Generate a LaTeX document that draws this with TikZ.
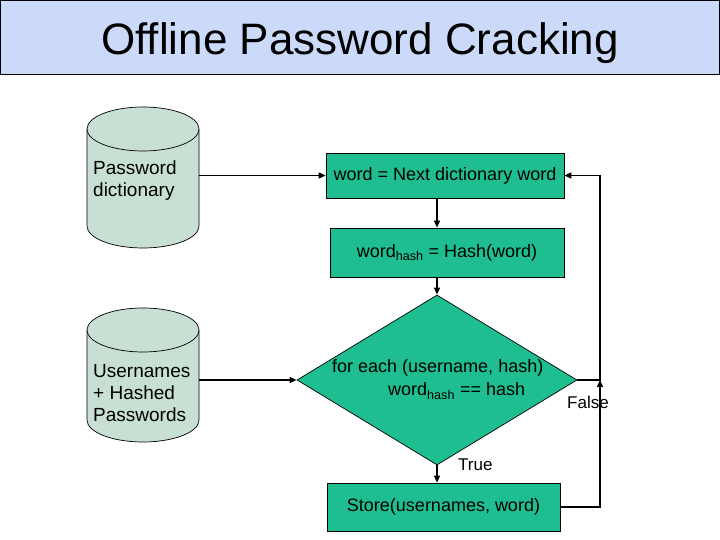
\documentclass[tikz,border=0pt]{standalone}
\usepackage{fontspec}
\setmainfont{Liberation Sans}
\usetikzlibrary{shapes.geometric,arrows.meta}

\definecolor{flowgreen}{RGB}{30,190,145}
\definecolor{dbgrey}{RGB}{200,224,212}
\definecolor{titleblue}{RGB}{204,218,250}

\begin{document}
\begin{tikzpicture}[x=1pt,y=1pt,>={Triangle[length=7pt,width=6pt]},
	flowbox/.style={draw,line width=0.7pt,fill=flowgreen,rectangle,inner sep=0pt,font=\fontsize{18}{22}\selectfont},
	dbtext/.style={anchor=west,align=left,inner sep=0pt,font=\fontsize{19}{22}\selectfont},
	link/.style={line width=1.5pt,->}]

	\useasboundingbox (0,0) rectangle (720,540);

	\node[draw,line width=1pt,fill=titleblue,minimum width=719pt,minimum height=74pt,inner sep=0pt] (title) at (360,502.5) {};
	\node[font=\fontsize{44}{50}\selectfont] at (360,497) {Offline Password Cracking};

	\begin{scope}[line width=0.7pt,fill=dbgrey]
		\filldraw[fill=dbgrey] (87,411) -- (87,314) arc[start angle=180,end angle=360,x radius=56,y radius=22] -- (199,411);
		\filldraw[fill=dbgrey] (143,411) ellipse [x radius=56,y radius=22];
		\filldraw[fill=dbgrey] (87,210) -- (87,120) arc[start angle=180,end angle=360,x radius=56,y radius=22] -- (199,210);
		\filldraw[fill=dbgrey] (143,210) ellipse [x radius=56,y radius=22];
	\end{scope}

	\node[dbtext] (dict)  at (93,359) {Password\\dictionary};
	\node[dbtext] (users) at (93,147) {Usernames\\+ Hashed\\Passwords};
	\coordinate (dictout)  at (199,364.5);
	\coordinate (usersout) at (199,160);

	\node[flowbox,minimum width=238pt,minimum height=45pt] (next)  at (445,364.5) {word = Next dictionary word};
	\node[flowbox,minimum width=234pt,minimum height=49pt] (hash)  at (447,287.5) {word\textsubscript{hash} = Hash(word)};
	\node[draw,line width=0.7pt,fill=flowgreen,diamond,minimum width=280pt,minimum height=170pt,inner sep=0pt] (check) at (437,160) {};
	\node[anchor=west,align=left,inner sep=0pt,font=\fontsize{18}{23}\selectfont] (checktext) at (332,160.5) {for each (username, hash)\\\hspace*{56pt}word\textsubscript{hash} == hash};
	\node[flowbox,minimum width=233pt,minimum height=48pt] (store) at (443.5,33) {Store(usernames, word)};

	\coordinate (join) at (600,160);

	\draw[link] (dictout) -- (next.west);
	\draw[link] (usersout) -- (check.west);
	\draw[link] (next.south -| check.north) -- (hash.north -| check.north);
	\draw[link] (hash.south -| check.north) -- (check.north);
	\draw[link] (check.south) -- (store.north -| check.south);
	\draw[link] (check.east) -- (join) |- (next.east);
	\draw[link] (store.east) -| (join);

	\node[anchor=west,inner sep=0pt,font=\fontsize{17}{20}\selectfont] at (458,75) {True};
	\node[inner sep=0pt,font=\fontsize{17}{20}\selectfont] at (588,138) {False};

\end{tikzpicture}
\end{document}
